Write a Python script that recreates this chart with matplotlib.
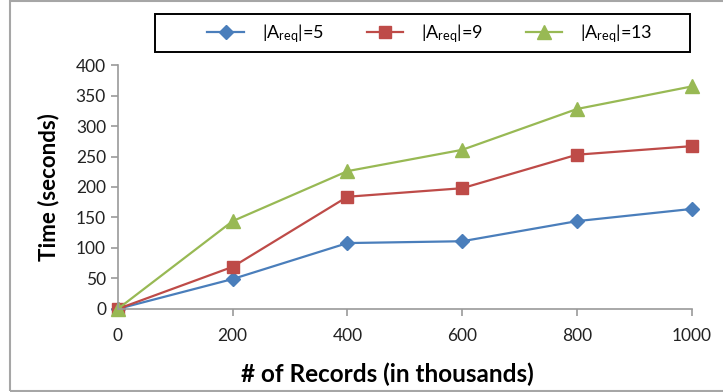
import matplotlib
matplotlib.use("Agg")
import matplotlib.pyplot as plt
from matplotlib.patches import Rectangle

plt.rcParams['font.family'] = ['Lato', 'DejaVu Sans']
plt.rcParams['mathtext.default'] = 'regular'

records = [0, 200, 400, 600, 800, 1000]
time_a5 = [0, 49, 108, 111, 144, 164]
time_a9 = [0, 69, 184, 198, 253, 267]
time_a13 = [0, 144, 226, 261, 328, 365]
labels = ['|A$_{req}$|=5', '|A$_{req}$|=9', '|A$_{req}$|=13']

fig = plt.figure(figsize=(7.23, 3.92), dpi=100)
ax = fig.add_axes([0.163, 0.212, 0.794, 0.622])

ax.plot(records, time_a5, color='#4a7ebb', marker='D', markersize=7, lw=1.6, label=labels[0])
ax.plot(records, time_a9, color='#be4b48', marker='s', markersize=9, lw=1.6, label=labels[1])
ax.plot(records, time_a13, color='#98b954', marker='^', markersize=10, lw=1.6, label=labels[2])

ax.set_xlim(0, 1000)
ax.set_ylim(0, 400)
ax.set_xticks(records)
ax.set_yticks(range(0, 401, 50))
for side in ['top', 'right']:
    ax.spines[side].set_visible(False)
for side in ['left', 'bottom']:
    ax.spines[side].set_color('#9a9a9a')
    ax.spines[side].set_linewidth(1.2)
ax.tick_params(axis='both', colors='#9a9a9a', length=5, width=1.2, labelsize=12.5, labelcolor='#222222')
ax.tick_params(axis='x', pad=9)
ax.set_xlabel('# of Records (in thousands)', fontsize=17.5, fontweight='bold')
ax.xaxis.set_label_coords(0.47, -0.22)
ax.set_ylabel('Time (seconds)', fontsize=16, fontweight='bold', labelpad=12)
for line in ax.get_lines():
    line.set_clip_on(False)

# legend entries centred in a plain black box
fig.legend(loc='center', bbox_to_anchor=(0.595, 0.915), ncol=3, fontsize=13,
           frameon=False, handlelength=2.0, handletextpad=1.0, columnspacing=2.4)
fig.patches.append(Rectangle((155 / 723, 1 - 52 / 392), 535 / 723, 38 / 392,
                             transform=fig.transFigure, fill=False,
                             edgecolor='black', linewidth=1.4))

# light border round the whole chart
fig.patches.append(Rectangle((10 / 723, 0.002), 1.0, 0.995, transform=fig.transFigure,
                             fill=False, edgecolor='#a6a6a6', linewidth=1.5))

fig.savefig('out.png', dpi=100)
